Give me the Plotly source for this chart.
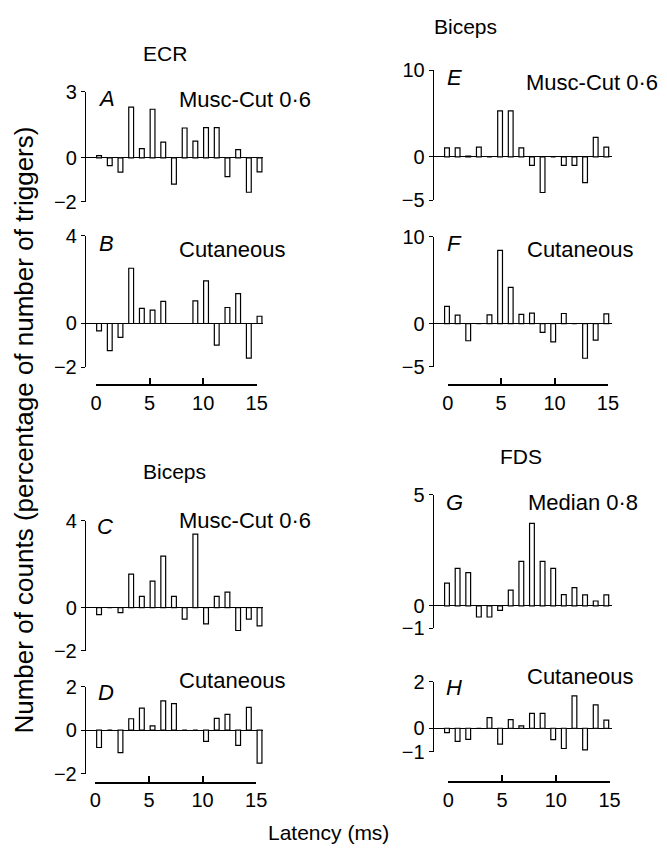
import plotly.graph_objects as go

# ---------------- data ----------------
latency_bins = list(range(16))          # 1-ms bins
scale_ticks = [0, 5, 10, 15]

ecr_musc = [0.1, -0.35, -0.65, 2.3, 0.42, 2.2, 0.71, -1.19, 1.35, 0.76, 1.37, 1.37, -0.85, 0.37, -1.56, -0.64]
ecr_cut = [-0.34, -1.24, -0.63, 2.52, 0.69, 0.61, 1.01, 0, 0, 1.03, 1.94, -0.99, 0.73, 1.36, -1.58, 0.33]
bicL_musc = [-0.33, 0, -0.23, 1.54, 0.52, 1.22, 2.37, 0.52, -0.53, 3.39, -0.75, 0.52, 0.71, -1.06, -0.53, -0.85]
bicL_cut = [-0.8, 0, -1.03, 0.52, 1.01, 0.19, 1.34, 1.22, 0, 0, -0.52, 0.54, 0.72, -0.7, 1.04, -1.52]
bicR_musc = [1.05, 1.05, 0.1, 1.13, 0, 5.3, 5.3, 1.05, -0.98, -4.1, 0, -0.98, -0.98, -2.97, 2.26, 1.13]
bicR_cut = [1.98, 0.97, -1.98, 0, 1.01, 8.43, 4.16, 1.05, 1.2, -1.01, -2.1, 1.16, 0, -4.0, -1.91, 1.12]
fds_median = [1.03, 1.69, 1.5, -0.5, -0.5, -0.2, 0.71, 2.01, 3.72, 2.01, 1.69, 0.51, 0.82, 0.5, 0.22, 0.5]
fds_cut = [-0.19, -0.56, -0.48, 0, 0.46, -0.68, 0.37, 0.1, 0.64, 0.64, -0.49, -0.87, 1.39, -0.93, 1.0, 0.35]

panel_letters = ["A", "B", "C", "D", "E", "F", "G", "H"]
panel_labels = ["Musc-Cut 0·6", "Cutaneous", "Musc-Cut 0·6", "Cutaneous",
                "Musc-Cut 0·6", "Cutaneous", "Median 0·8", "Cutaneous"]
panel_series = [ecr_musc, ecr_cut, bicL_musc, bicL_cut, bicR_musc, bicR_cut, fds_median, fds_cut]
y_limits = [(-2, 3), (-2, 4), (-2, 4), (-2, 2), (-5, 10), (-5, 10), (-1, 5), (-1, 2)]
muscle_titles = ["ECR", "Biceps", "Biceps", "FDS"]

# ---------------- layout geometry (pixels) ----------------
W, H = 667, 859
def fx(px):
    return px / W
def fy(py):
    return 1 - py / H

FONT = "Liberation Sans, Arial, sans-serif"
FS_TICK = 20
FS_LABEL = 22
FS_TITLE = 21

col_x = {"L": (82, 264), "R": (439, 622)}
col_xrange = {"L": (-1.23, 15.35), "R": (-1.24, 15.55)}
panel_geo = [
    ("L", 82.7, 196.0), ("L", 230.7, 365.7), ("L", 523.3, 656.7), ("L", 693.3, 782.7),
    ("R", 60.7, 194.3), ("R", 231.7, 365.3), ("R", 496.7, 633.3), ("R", 688.3, 760.0),
]
scale_geo = [(92.3, 257.3, 382.7), (91.7, 256.7, 791.0), (453.3, 617.7, 382.7), (454.0, 619.3, 790.0)]

letter_pos = [(103.5, 89.5), (103, 238.3), (101.7, 529), (103, 699.5),
              (460.5, 68), (460.5, 238.7), (460, 504), (460, 694)]
label_pos = [(175, 91.3), (175, 244.5), (175, 522.5), (175, 687),
             (531.7, 73.7), (532.3, 244.5), (533.3, 504), (532.3, 682.5)]
title_pos = [(163, 44), (472, 16), (172.5, 472.5), (528, 457)]

fig = go.Figure()
layout = dict(
    width=W, height=H,
    margin=dict(l=0, r=0, t=0, b=0),
    paper_bgcolor="white", plot_bgcolor="white",
    showlegend=False,
    font=dict(family=FONT, size=FS_TICK, color="black"),
)
annotations = []

for i, (vals, (lo, hi), geo) in enumerate(zip(panel_series, y_limits, panel_geo)):
    k = i + 1
    col, ptop, pbot = geo
    xa = "x" if k == 1 else f"x{k}"
    ya = "y" if k == 1 else f"y{k}"
    fig.add_trace(go.Bar(
        x=latency_bins, y=vals, width=0.45, xaxis=xa, yaxis=ya,
        marker=dict(color="white", line=dict(color="black", width=1.2)),
        hoverinfo="skip",
    ))
    xkey = "xaxis" if k == 1 else f"xaxis{k}"
    ykey = "yaxis" if k == 1 else f"yaxis{k}"
    layout[xkey] = dict(domain=[fx(col_x[col][0]), fx(col_x[col][1])], range=list(col_xrange[col]),
                        anchor=ya, visible=False, fixedrange=True)
    layout[ykey] = dict(domain=[fy(pbot), fy(ptop)], range=[lo, hi], anchor=xa,
                        showline=True, linecolor="black", linewidth=1.3,
                        ticks="outside", ticklen=4, tickwidth=1.3, tickcolor="black",
                        tickvals=[lo, 0, hi], showgrid=False,
                        zeroline=True, zerolinecolor="black", zerolinewidth=1.3,
                        tickfont=dict(family=FONT, size=FS_TICK, color="black"))
    lx, ly = letter_pos[i]
    annotations.append(dict(text=f"<i>{panel_letters[i]}</i>", x=fx(lx), y=fy(ly), xref="paper", yref="paper",
                            xanchor="center", yanchor="middle", showarrow=False,
                            font=dict(family=FONT, size=FS_LABEL, color="black")))
    tx, ty = label_pos[i]
    annotations.append(dict(text=panel_labels[i], x=fx(tx), y=fy(ty), xref="paper", yref="paper",
                            xanchor="left", yanchor="middle", showarrow=False,
                            font=dict(family=FONT, size=FS_LABEL, color="black")))

for j, (x0, x15, ly) in enumerate(scale_geo):
    k = 9 + j
    fig.add_trace(go.Scatter(x=[scale_ticks[0], scale_ticks[-1]], y=[0, 0], mode="none",
                             xaxis=f"x{k}", yaxis=f"y{k}", hoverinfo="skip"))
    layout[f"xaxis{k}"] = dict(domain=[fx(x0), fx(x15)], range=[scale_ticks[0], scale_ticks[-1]],
                               anchor=f"y{k}", showline=True, linecolor="black", linewidth=1.5,
                               ticks="inside", ticklen=6, tickwidth=1.5, tickcolor="black",
                               tickvals=scale_ticks, showgrid=False, zeroline=False,
                               tickfont=dict(family=FONT, size=FS_TICK, color="black"), fixedrange=True)
    layout[f"yaxis{k}"] = dict(domain=[fy(ly), fy(ly - 10)], range=[0, 1], anchor=f"x{k}",
                               visible=False, fixedrange=True)

for t, (tx, ty) in zip(muscle_titles, title_pos):
    annotations.append(dict(text=t, x=fx(tx), y=fy(ty), xref="paper", yref="paper",
                            xanchor="center", yanchor="middle", showarrow=False,
                            font=dict(family=FONT, size=FS_TITLE, color="black")))

annotations.append(dict(text="Number of counts (percentage of number of triggers)", x=fx(18), y=fy(430),
                        xref="paper", yref="paper", textangle=-90, xanchor="center", yanchor="middle",
                        showarrow=False, font=dict(family=FONT, size=26, color="black")))
annotations.append(dict(text="Latency (ms)", x=fx(331), y=fy(843), xref="paper", yref="paper",
                        xanchor="center", yanchor="middle", showarrow=False,
                        font=dict(family=FONT, size=FS_TITLE, color="black")))

layout["annotations"] = annotations
fig.update_layout(**layout)
fig.write_html("out.html")
